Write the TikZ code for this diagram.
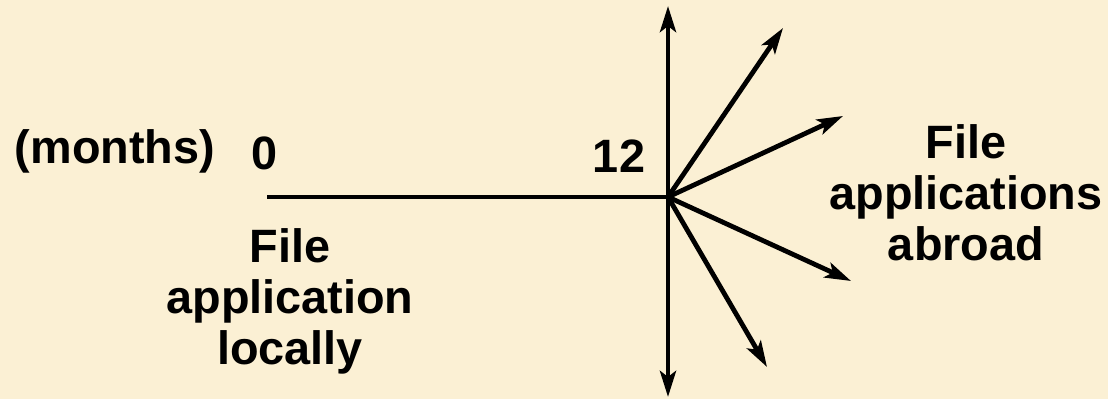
\documentclass[tikz,border=0pt]{standalone}
\usepackage{fontspec}
\setmainfont{Liberation Sans}
\usepackage{xcolor}
\usetikzlibrary{arrows.meta, positioning, calc}
\definecolor{parchment}{RGB}{251,240,212}
\tikzset{
  lbl/.style={
    font=\fontsize{23.4}{25.5}\selectfont\bfseries,
    align=center, inner sep=0pt, anchor=base
  },
  axis/.style={
    black, line width=2.4pt
  },
  arr/.style={
    -{Stealth[length=13pt,width=8pt,inset=3pt]},
    black, line width=2.4pt
  },
}
\begin{document}
\begin{tikzpicture}[x=0.5pt,y=-0.5pt]
  \fill[parchment] (0,0) rectangle (1108,399);
  \useasboundingbox (0,0) rectangle (1108,399);
  \coordinate (start) at (267,197);
  \coordinate (now)   at (668,197);
  \coordinate (up)    at (668,6);
  \coordinate (down)  at (668,397);
  \coordinate (ne)    at (783,28);
  \coordinate (e)     at (843,116);
  \coordinate (se)    at (851,281);
  \coordinate (s)     at (767,367);
  \node[lbl] (unit) at (115,164) {(months)};
  \node[lbl] (zero) at (265,170) {0};
  \node[lbl] (twelve) at (619,173) {12};
  % last line of each block sits on the anchor
  \node[lbl] (local) at (290,365) {File\\application\\locally};
  \node[lbl] (abroad) at (966,261) {File\\applications\\abroad};
  \draw[axis] (start) -- (now);
  \draw[arr] (now) -- (up);
  \draw[arr] (now) -- (down);
  \draw[arr] (now) -- (ne);
  \draw[arr] (now) -- (e);
  \draw[arr] (now) -- (se);
  \draw[arr] (now) -- (s);
\end{tikzpicture}
\end{document}
